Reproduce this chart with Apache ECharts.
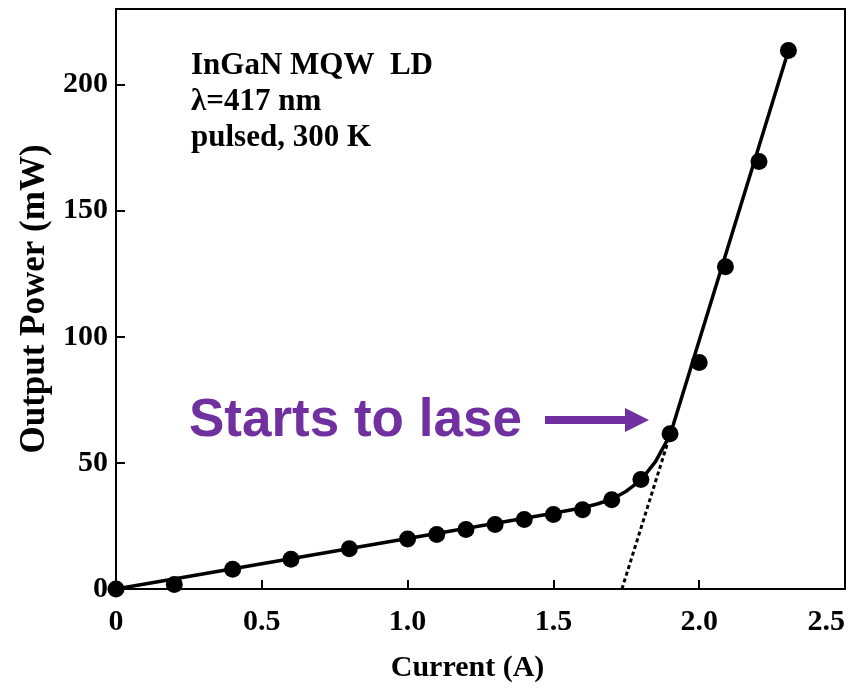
<!DOCTYPE html>
<html>
<head>
<meta charset="utf-8">
<script src="https://cdn.jsdelivr.net/npm/echarts@6/dist/echarts.min.js"></script>
<style>
  html, body { margin: 0; padding: 0; background: #fff; }
  #chart { width: 855px; height: 688px; }
</style>
</head>
<body>
<div id="chart"></div>
<script>
// Measured output power of the InGaN MQW laser diode
const current = [0, 0.2, 0.4, 0.6, 0.8, 1.0, 1.1, 1.2, 1.3, 1.4, 1.5, 1.6, 1.7, 1.8, 1.9, 2.0, 2.09, 2.205, 2.306];
const power   = [0, 1.8, 7.8, 11.8, 16, 19.8, 21.6, 23.6, 25.6, 27.6, 29.5, 31.4, 35.4, 43.4, 61.6, 89.8, 127.8, 169.5, 213.5];

// Guide curve drawn through the measurements
const fitCurrent = [0, 1.0, 1.5, 1.6, 1.65, 1.7, 1.75, 1.8, 1.85, 1.9, 2.306];
const fitPower   = [0, 20, 30, 32.2, 33.7, 35.6, 38.8, 43.2, 50.5, 61, 213.5];

// Extrapolated lasing slope down to the threshold current
const thresholdCurrent = [1.735, 1.9];
const thresholdPower   = [0, 61];

const xTicks = [0, 0.5, 1.0, 1.5, 2.0, 2.5];
const yTicks = [0, 50, 100, 150, 200];

const infoLines = ['InGaN MQW  LD', 'λ=417 nm', 'pulsed, 300 K'];
const noteText = 'Starts to lase';

const serif = "'Liberation Serif', 'Times New Roman', serif";
const sans = "'Liberation Sans', Arial, sans-serif";
const purple = '#7030a0';

const pairs = (xs, ys) => xs.map((x, i) => [x, ys[i]]);

const chart = echarts.init(document.getElementById('chart'), null, { renderer: 'canvas' });

chart.setOption({
  animation: false,
  backgroundColor: '#ffffff',
  grid: {
    left: 116, right: 10, top: 9, bottom: 93,
    show: true, borderColor: '#000', borderWidth: 2, containLabel: false
  },
  xAxis: {
    type: 'value',
    min: 0, max: 2.5, interval: 0.5,
    name: 'Current (A)',
    nameLocation: 'middle',
    nameGap: 64,
    nameTextStyle: { fontFamily: serif, fontWeight: 'bold', fontSize: 30, color: '#000', padding: [0, 26, 0, 0] },
    axisLine: { show: true, lineStyle: { color: '#000', width: 2 } },
    axisTick: { show: true, inside: true, length: 9, lineStyle: { color: '#000', width: 2 } },
    splitLine: { show: false },
    axisLabel: {
      fontFamily: serif, fontWeight: 'bold', fontSize: 30, color: '#000', margin: 18,
      alignMaxLabel: 'right',
      formatter: v => (xTicks.some(t => Math.abs(t - v) < 1e-9) ? (v === 0 ? '0' : v.toFixed(1)) : '')
    }
  },
  yAxis: {
    type: 'value',
    min: 0, max: 230, interval: 50,
    name: 'Output Power (mW)',
    nameLocation: 'middle',
    nameGap: 63,
    nameTextStyle: { fontFamily: serif, fontWeight: 'bold', fontSize: 35, color: '#000', padding: [0, 0, 0, 0] },
    axisLine: { show: true, lineStyle: { color: '#000', width: 2 } },
    axisTick: { show: true, inside: true, length: 9, lineStyle: { color: '#000', width: 2 } },
    splitLine: { show: false },
    axisLabel: {
      fontFamily: serif, fontWeight: 'bold', fontSize: 30, color: '#000', margin: 8,
      showMaxLabel: false,
      formatter: v => (yTicks.includes(v) ? String(v) : '')
    }
  },
  series: [
    {
      name: 'threshold',
      type: 'line',
      data: pairs(thresholdCurrent, thresholdPower),
      symbol: 'none',
      lineStyle: { color: '#000', width: 3, type: [4, 3] },
      z: 1
    },
    {
      name: 'fit',
      type: 'line',
      data: pairs(fitCurrent, fitPower),
      symbol: 'none',
      smooth: false,
      lineStyle: { color: '#000', width: 3.5, join: 'round', cap: 'round' },
      z: 2
    },
    {
      name: 'measured',
      type: 'scatter',
      data: pairs(current, power),
      symbol: 'circle',
      symbolSize: 17,
      itemStyle: { color: '#000', opacity: 1 },
      emphasis: { disabled: true },
      z: 3
    }
  ],
  graphic: [
    ...infoLines.map((t, i) => ({
      type: 'text',
      left: 191,
      top: 50 + i * 36,
      style: { text: t, fontFamily: serif, fontWeight: 'bold', fontSize: 31, fill: '#000' }
    })),
    {
      type: 'text',
      left: 189,
      top: 395,
      style: { text: noteText, fontFamily: sans, fontWeight: 'bold', fontSize: 53, fill: purple }
    },
    {
      type: 'rect',
      shape: { x: 545, y: 416, width: 82, height: 8 },
      style: { fill: purple }
    },
    {
      type: 'polygon',
      shape: { points: [[625, 408], [649, 420], [625, 432]] },
      style: { fill: purple }
    }
  ]
});
</script>
</body>
</html>
